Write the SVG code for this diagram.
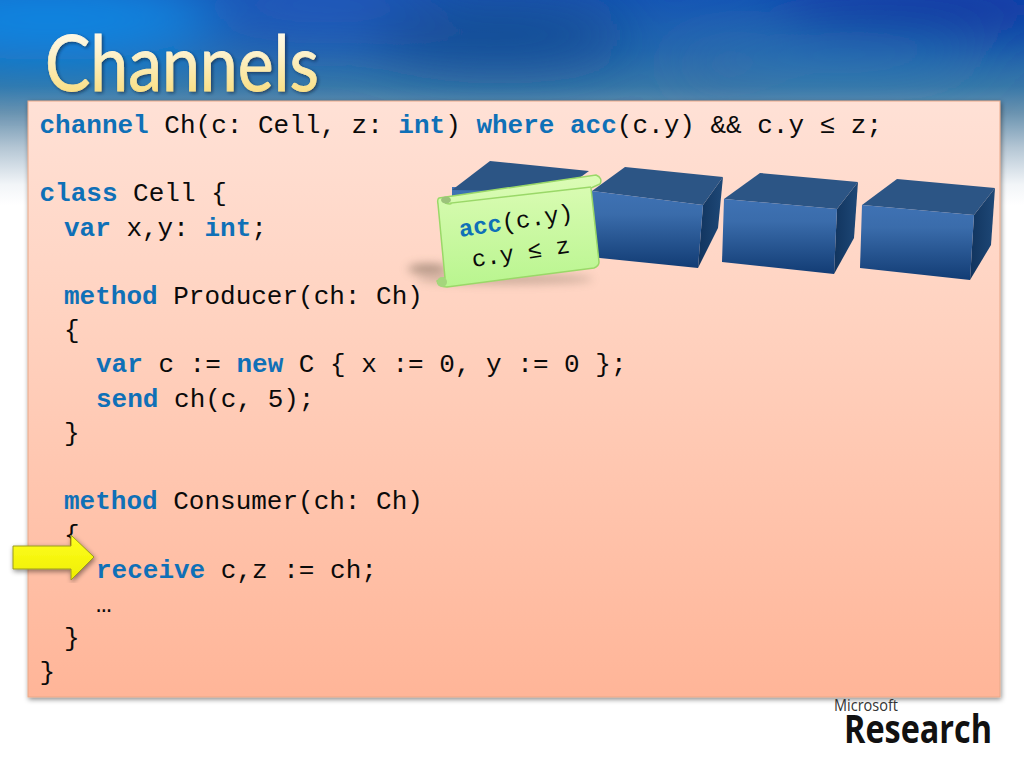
<svg xmlns="http://www.w3.org/2000/svg" width="1024" height="768" viewBox="0 0 1024 768">
<style>
.code{font-family:"Liberation Mono",monospace;font-size:26px;fill:#0a0a0a;white-space:pre}
.kw{fill:#0f70b7;font-weight:bold}
.top{fill:#2c5585}
.side{fill:url(#boxSide)}
.front{fill:url(#boxFront)}
</style>
<defs>
<linearGradient id="bg" x1="0" y1="0" x2="0" y2="1">
<stop offset="0" stop-color="#1656b4"/><stop offset=".25" stop-color="#2468ae"/><stop offset=".42" stop-color="#3878a8"/><stop offset=".55" stop-color="#6a93b0"/><stop offset=".72" stop-color="#b4c6d4"/><stop offset=".9" stop-color="#f2f5f8"/><stop offset="1" stop-color="#fff"/>
</linearGradient>
<linearGradient id="panel" x1="0" y1="0" x2="0" y2="1"><stop offset="0" stop-color="#ffe1d6"/><stop offset=".35" stop-color="#ffd3c1"/><stop offset="1" stop-color="#ffb598"/></linearGradient>
<linearGradient id="title" x1="0" y1="0" x2="0" y2="1"><stop offset="0" stop-color="#fff"/><stop offset=".4" stop-color="#fdf2cf"/><stop offset="1" stop-color="#f9d868"/></linearGradient>
<linearGradient id="boxFront" x1="0" y1="0" x2="0" y2="1"><stop offset="0" stop-color="#3f72b4"/><stop offset=".3" stop-color="#3a6cab"/><stop offset="1" stop-color="#123c74"/></linearGradient>
<linearGradient id="boxSide" x1="0" y1="0" x2="1" y2="0"><stop offset="0" stop-color="#11345e"/><stop offset="1" stop-color="#1e4877"/></linearGradient>
<linearGradient id="note" x1="0" y1="0" x2="0" y2="1"><stop offset="0" stop-color="#dcfcb6"/><stop offset="1" stop-color="#b9f58f"/></linearGradient>
<linearGradient id="arrow" x1="0" y1="0" x2="0" y2="1"><stop offset="0" stop-color="#ffff20"/><stop offset="1" stop-color="#eeee00"/></linearGradient>
<filter id="b30" filterUnits="userSpaceOnUse" x="-300" y="-300" width="1624" height="800"><feGaussianBlur stdDeviation="28"/></filter>
<filter id="b5" filterUnits="userSpaceOnUse" x="350" y="230" width="300" height="90"><feGaussianBlur stdDeviation="5"/></filter>
<filter id="ds" x="-5%" y="-5%" width="110%" height="110%"><feDropShadow dx="1" dy="2" stdDeviation="2.5" flood-color="#000" flood-opacity=".45"/></filter>
<filter id="ts" x="-5%" y="-10%" width="110%" height="120%"><feDropShadow dx="1.5" dy="1.5" stdDeviation="1.5" flood-color="#123" flood-opacity=".6"/></filter>
</defs>
<g id="background">
<rect width="1024" height="768" fill="#fff"/>
<rect width="1024" height="205" fill="url(#bg)"/>
<g filter="url(#b30)">
<ellipse cx="50" cy="20" rx="170" ry="40" fill="#0a88e4"/>
<ellipse cx="320" cy="5" rx="120" ry="30" fill="#2058ba"/>
<ellipse cx="500" cy="35" rx="130" ry="30" fill="#124a92"/>
<ellipse cx="940" cy="10" rx="170" ry="22" fill="#0a2c9c"/>
<ellipse cx="830" cy="58" rx="150" ry="10" fill="#2a7cba"/>
<ellipse cx="720" cy="68" rx="50" ry="8" fill="#4a5a9c" opacity=".6"/>
</g>
</g>
<g id="title">
<text x="45" y="91" font-family="Lato,'Open Sans',sans-serif" font-size="78" fill="url(#title)" stroke="url(#title)" stroke-width=".8" filter="url(#ts)" textLength="274" lengthAdjust="spacingAndGlyphs">Channels</text>
</g>
<g id="panel">
<rect x="28" y="101" width="972" height="596" fill="url(#panel)" stroke="#e8a888" stroke-width="1" filter="url(#ds)"/>
</g>
<g id="code">
<text class="code" x="39.5" y="133"><tspan class="kw">channel</tspan> Ch(c: Cell, z: <tspan class="kw">int</tspan>) <tspan class="kw">where</tspan> <tspan class="kw">acc</tspan>(c.y) &amp;&amp; c.y ≤ z;</text>
<text class="code" x="39.5" y="201.4"><tspan class="kw">class</tspan> Cell {</text>
<text class="code" x="64" y="235.6"><tspan class="kw">var</tspan> x,y: <tspan class="kw">int</tspan>;</text>
<text class="code" x="64" y="304"><tspan class="kw">method</tspan> Producer(ch: Ch)</text>
<text class="code" x="64" y="338.2">{</text>
<text class="code" x="96" y="372.4"><tspan class="kw">var</tspan> c := <tspan class="kw">new</tspan> C { x := 0, y := 0 };</text>
<text class="code" x="96" y="406.6"><tspan class="kw">send</tspan> ch(c, 5);</text>
<text class="code" x="64" y="440.8">}</text>
<text class="code" x="64" y="509.2"><tspan class="kw">method</tspan> Consumer(ch: Ch)</text>
<text class="code" x="64" y="543.4">{</text>
<text class="code" x="96" y="577.6"><tspan class="kw">receive</tspan> c,z := ch;</text>
<text class="code" x="96" y="611.8">…</text>
<text class="code" x="64" y="646">}</text>
<text class="code" x="39.5" y="680.2">}</text>
</g>
<g id="box1">
<polygon class="front" points="452,187 590,190 590,260 452,260"/>
<polygon class="top" points="490,161 589,171 560,192 452,190"/>
</g>
<g id="box2">
<polygon class="side" points="703,205 723,177 718,228 698,268"/>
<polygon class="top" points="625,167 723,177 703,205 592,191"/>
<polygon class="front" points="592,191 703,205 698,268 590,257"/>
</g>
<g id="box3">
<polygon class="side" points="837,209 858,182 854,238 834,274"/>
<polygon class="top" points="760,173 858,182 837,209 724,199"/>
<polygon class="front" points="724,199 837,209 834,274 722,262"/>
</g>
<g id="box4">
<polygon class="side" points="974,215 995,188 991,245 970,280"/>
<polygon class="top" points="897,179 995,188 974,215 862,205"/>
<polygon class="front" points="862,205 974,215 970,280 860,268"/>
</g>
<g id="note">
<ellipse cx="505" cy="279" rx="88" ry="5" fill="#7a6a5a" opacity=".4" filter="url(#b5)"/>
<ellipse cx="428" cy="269" rx="20" ry="5" fill="#6a5a4a" opacity=".55" filter="url(#b5)"/>
<path d="M439,198 L596,175 Q603,178 600,184 L591,188 L599,262 Q599,266 594,268 L447,287 Q438,287 437,281 L445,278 L438,204 Q437,199 439,198Z" fill="url(#note)" stroke="#9ad868" stroke-width="1.5"/>
<path d="M445,203 Q452,205 451,203 L591,187" fill="none" stroke="#9ad868" stroke-width="1.5"/>
<ellipse cx="446" cy="200" rx="5" ry="3.5" fill="#9cc27a"/>
<ellipse cx="442" cy="282" rx="5" ry="5" fill="#a4d67c"/>
<text class="code" style="font-size:24px" transform="translate(460,237) rotate(-8.5)"><tspan class="kw">acc</tspan>(c.y)</text>
<text class="code" style="font-size:23.5px" transform="translate(473,267) rotate(-8.5)">c.y ≤ z</text>
</g>
<g id="arrow-marker">
<polygon points="13,546 71,546 71,535 94,557 71,580 71,569 13,569" fill="url(#arrow)" stroke="#9a9a20" stroke-width="1" filter="url(#ds)"/>
</g>
<g id="logo">
<text x="834" y="710.5" font-family="'Open Sans',sans-serif" font-size="15.5" fill="#333" textLength="64" lengthAdjust="spacingAndGlyphs">Microsoft</text>
<text x="844" y="743" font-family="'Open Sans',sans-serif" font-weight="700" font-size="39" fill="#111" textLength="148" lengthAdjust="spacingAndGlyphs">Research</text>
</g>
</svg>
